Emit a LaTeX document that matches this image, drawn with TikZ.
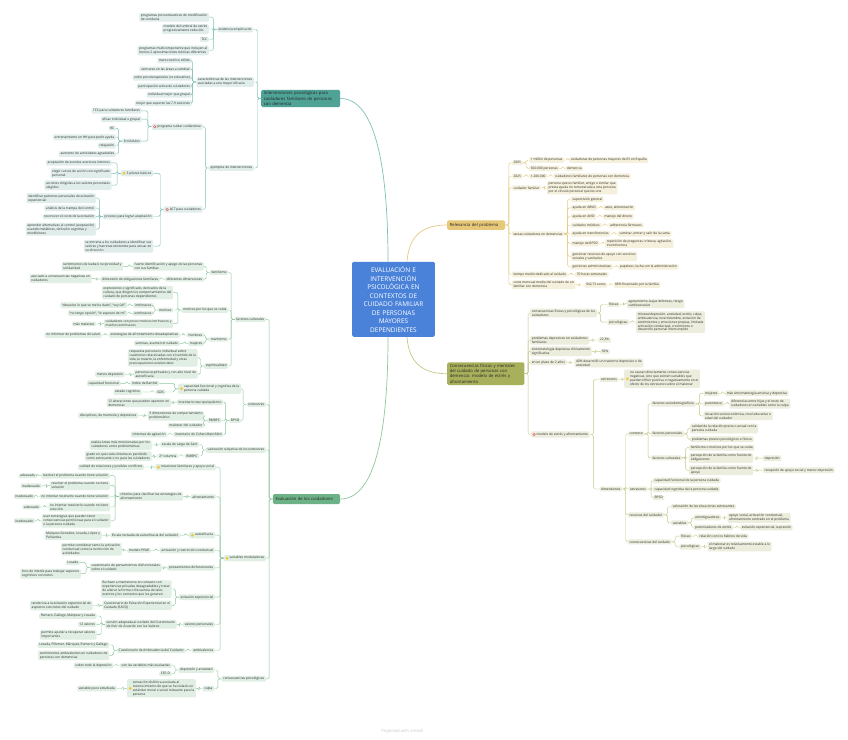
\documentclass[tikz,border=0pt]{standalone}
\usepackage{fontspec}
\setmainfont{Open Sans}
\usetikzlibrary{calc}
\definecolor{txt}{RGB}{45,45,45}
\definecolor{tF}{RGB}{224,237,234}\definecolor{tL}{RGB}{125,192,183}
\definecolor{gF}{RGB}{225,238,228}\definecolor{gL}{RGB}{140,200,158}
\definecolor{yF}{RGB}{245,240,220}\definecolor{yL}{RGB}{228,203,128}
\definecolor{oF}{RGB}{236,237,220}\definecolor{oL}{RGB}{196,199,135}
\definecolor{cB}{RGB}{74,130,218}
\definecolor{tB}{RGB}{78,162,150}
\definecolor{gB}{RGB}{108,178,134}
\definecolor{yB}{RGB}{231,200,120}
\definecolor{oB}{RGB}{168,176,92}
\definecolor{icY}{RGB}{244,200,60}
\definecolor{icR}{RGB}{228,92,92}
\newcommand\lf{\fontsize{3.25}{3.95}\selectfont}
\newcommand\LL[3]{\draw[#1] (#3.east) -| ([xshift=-3.5pt]#2.west) -- (#2.west);}
\newcommand\RL[3]{\draw[#1] (#2.east) -- ([xshift=3.5pt]#2.east) |- (#3.west);}
\newcommand\IC[1]{\hspace*{4.2pt}\begin{tabular}{@{}l@{}}#1\end{tabular}}
\newcommand\icy[1]{\fill[icY] ([xshift=3.4pt]#1.west) circle (1.6pt);}
\newcommand\icr[1]{\fill[icR] ([xshift=3.4pt]#1.west) circle (1.6pt);\fill[white] ([xshift=3.4pt]#1.west) circle (0.6pt);}
\begin{document}
\begin{tikzpicture}[x=1pt,y=-1pt,
  lbase/.style={rounded corners=1.2pt, inner xsep=1.6pt, inner ysep=1.2pt, font=\lf, text=txt},
  leaf/.style={lbase, align=left},
  tl/.style={leaf, fill=tF}, gl/.style={leaf, fill=gF}, yl/.style={leaf, fill=yF}, ol/.style={leaf, fill=oF},
  tli/.style={lbase, fill=tF}, gli/.style={lbase, fill=gF}, oli/.style={lbase, fill=oF},
  tc/.style={draw=tL, line width=0.45pt, rounded corners=1.5pt},
  gc/.style={draw=gL, line width=0.45pt, rounded corners=1.5pt},
  yc/.style={draw=yL, line width=0.45pt, rounded corners=1.5pt},
  oc/.style={draw=oL, line width=0.45pt, rounded corners=1.5pt},
  mainbox/.style={rounded corners=1.5pt, inner xsep=2.6pt, inner ysep=1.6pt, align=left, text=black!85, font=\fontsize{4.2}{5.4}\selectfont},
  L/.style={anchor=east}, R/.style={anchor=west}]
\useasboundingbox (0,0) rectangle (848,739);
\fill[white] (0,0) rectangle (848,739);

% ---------- center ----------
\node[fill=cB, rounded corners=1.5pt, minimum width=81pt, minimum height=75pt, text width=76pt, align=center, text=white, font=\fontsize{6.5}{8.5}\selectfont] (C) at (393.5,299.3)
{EVALUACIÓN E\\INTERVENCIÓN\\PSICOLÓGICA EN\\CONTEXTOS DE\\CUIDADO FAMILIAR\\DE PERSONAS\\MAYORES\\DEPENDIENTES};

% ---------- main boxes ----------
\node[mainbox, fill=tB, text width=73.8pt, anchor=west] (tI) at (261,98.5) {Intervenciones psicológicas para\\cuidadores familiares de personas\\con demencia};
\node[mainbox, fill=gB, text width=62pt, anchor=west, minimum height=10pt] (gE) at (272.7,499) {Evaluación de los cuidadores};
\node[mainbox, fill=yB, text width=52.8pt, anchor=west, minimum height=9.5pt] (yR) at (447,225) {Relevancia del problema};
\node[mainbox, fill=oB, text width=72pt, anchor=west] (oC) at (447,373.7) {Consecuencias físicas y mentales\\del cuidado de personas con\\demencia: modelo de estrés y\\afrontamiento};

\draw[tL, line width=0.7pt] ([xshift=-5.5pt]C.north) .. controls +(0,-95) and +(35,0) .. (tI.east);
\draw[gL, line width=0.7pt] ([xshift=-5.5pt]C.south) .. controls +(0,95) and +(35,0) .. (gE.east);
\draw[yL, line width=0.7pt] ([xshift=13.5pt]C.north) .. controls +(2,-28) and +(-22,0) .. (yR.west);
\draw[oL, line width=0.7pt] ([xshift=13.5pt]C.south) .. controls +(2,28) and +(-22,0) .. (oC.west);

% ---------- teal tree ----------
\node[tl,L] (t1) at (253.3,29.5) {evidencia empírica de};
\node[tl,L] (t11) at (209,17.2) {programas psicoeducativos de modificación\\de conducta};
\node[tl,L] (t12) at (209,29) {modelo del umbral de estrés\\progresivamente reducido};
\node[tl,L] (t13) at (209,39.5) {TCC};
\node[tl,L] (t14) at (209,50.5) {programas multicomponente que incluyen al\\menos 2 aproximaciones teóricas diferentes};
\node[tl,L] (t2) at (254,82) {características de las intervenciones\\asociadas a una mayor eficacia};
\node[tl,L] (t21) at (191.7,60.7) {marco teórico sólido};
\node[tl,L] (t22) at (191.7,69) {centrarse en las áreas a cambiar};
\node[tl,L] (t23) at (191.7,77.7) {estilo psicoterapéutico (vs educativo)};
\node[tl,L] (t24) at (191.7,86.2) {participación activa de cuidadores};
\node[tl,L] (t25) at (191.7,94.7) {individual mejor que grupal};
\node[tl,L] (t26) at (191.7,103.2) {mejor que superen las 7-9 sesiones};
\node[tl,L] (t3) at (254,168) {ejemplos de intervenciones};
\node[tli,L] (t31) at (202.7,126.7) {\IC{programa cuidar cuidándose}};
\node[tl,L] (t311) at (141.7,110.8) {TCC para cuidadores familiares};
\node[tl,L] (t312) at (141.7,119.2) {eficaz individual o grupal};
\node[tl,L] (t313) at (141.7,141.2) {8 módulos};
\node[tl,L] (t3131) at (116,128.3) {RC};
\node[tl,L] (t3132) at (116,137.2) {entrenamiento en HH para pedir ayuda};
\node[tl,L] (t3133) at (116,145.5) {relajación};
\node[tl,L] (t3134) at (116,154) {aumento de actividades agradables};
\node[tli,L] (t32) at (202.7,209.5) {\IC{ACT para cuidadores}};
\node[tli,L] (t321) at (153.3,173.3) {\IC{3 pilares básicos}};
\node[tl,L] (t3211) at (111.7,162.8) {aceptación de eventos aversivos internos};
\node[tl,L] (t3212) at (111.7,173.3) {elegir cursos de acción con significado\\personal};
\node[tl,L] (t3213) at (111.7,185.2) {acciones dirigidas a los valores personales\\elegidos};
\node[tl,L] (t322) at (153.3,216.5) {proceso para lograr aceptación};
\node[tl,L] (t3221) at (96,198.2) {identificar patrones personales de evitación\\experiencial};
\node[tl,L] (t3222) at (96,208.2) {análisis de la trampa del control};
\node[tl,L] (t3223) at (96,216.7) {reconocer el coste de la evitación};
\node[tl,L] (t3224) at (96,229.2) {aprender alternativas al control (aceptación)\\usando metáforas, defusión cognitiva y\\mindfulness};
\node[tl,L] (t323) at (153.3,246.2) {se entrena a los cuidadores a identificar sus\\valores y barreras existentes para actuar en\\su dirección};
\icr{t31}\icr{t32}\icy{t321}
\foreach \p/\c in {tI/t1,tI/t2,tI/t3,t1/t11,t1/t12,t1/t13,t1/t14,t2/t21,t2/t22,t2/t23,t2/t24,t2/t25,t2/t26,t3/t31,t3/t32,t31/t311,t31/t312,t31/t313,t313/t3131,t313/t3132,t313/t3133,t313/t3134,t32/t321,t32/t322,t32/t323,t321/t3211,t321/t3212,t321/t3213,t322/t3221,t322/t3222,t322/t3223,t322/t3224}{\LL{tc}{\p}{\c}}

% ---------- green tree ----------
\node[gl,L] (g1) at (266,319.3) {factores culturales};
\node[gl,L] (g11) at (228.3,272.5) {familismo};
\node[gl,L] (g111) at (204,266.3) {fuerte identificación y apego de las personas\\con sus familias};
\node[gl,L] (g1111) at (123.3,266.3) {sentimientos de lealtad, reciprocidad y\\solidaridad};
\node[gl,L] (g112) at (204,279.2) {diferentes dimensiones};
\node[gl,L] (g1121) at (160,279.2) {dimensión de obligaciones familiares};
\node[gl,L] (g11211) at (91.7,278.7) {asociado a consecuencias negativas en\\cuidadores};
\node[gl,L] (g12) at (228.3,310) {motivos por los que se cuida};
\node[gl,L] (g121) at (173.3,292.7) {expresiones o significado, derivados de la\\cultura, que dirigen los comportamientos del\\cuidado de personas dependientes};
\node[gl,L] (g122) at (173.3,310) {motivos};
\node[gl,L] (g1221) at (153.3,305.3) {intrínsecos};
\node[gl,L] (g12211) at (127.3,305.3) {“devuelvo lo que se me ha dado”, “soy útil”};
\node[gl,L] (g1222) at (153.3,313.3) {extrínsecos};
\node[gl,L] (g12221) at (127.3,313.3) {“no tengo opción”, “lo esperan de mí”};
\node[gl,L] (g123) at (173.3,323.7) {cuidadores con pocos motivos intrínsecos y\\muchos extrínsecos};
\node[gl,L] (g1231) at (96,324) {más malestar};
\node[gl,L] (g13) at (228.3,339.2) {machismo};
\node[gl,L] (g131) at (204,335) {hombres};
\node[gl,L] (g1311) at (180,335) {estrategias de afrontamiento desadaptativas};
\node[gl,L] (g13111) at (101.7,335) {no informar de problemas de salud};
\node[gl,L] (g132) at (204,343.3) {mujeres};
\node[gl,L] (g1321) at (180,343.3) {sumisas, asumen el cuidado};
\node[gl,L] (g14) at (228.3,366) {espiritualidad};
\node[gl,L] (g141) at (197.7,357.8) {respuesta personal o individual sobre\\cuestiones relacionadas con el sentido de la\\vida, la muerte, la enfermedad y otras\\preocupaciones existenciales};
\node[gl,L] (g142) at (197.7,374.2) {personas espirituales y con alto nivel de\\autoeficacia};
\node[gl,L] (g1421) at (125,374.5) {menos depresión};

\node[gl,L] (g2) at (266,404.5) {estresores};
\node[gli,L] (g21) at (241,388.8) {\IC{capacidad funcional y cognitiva de la\\persona cuidada}};
\node[gl,L] (g211) at (159.3,383.3) {índice de Barthel};
\node[gl,L] (g2111) at (120.7,383.3) {capacidad funcional};
\node[gl,L] (g212) at (165.7,392) {GDS};
\node[gl,L] (g2121) at (141.7,392) {estado cognitivo};
\node[gl,L] (g22) at (241,420.5) {BPSD};
\node[gl,L] (g221) at (223.3,402.2) {inventario neuropsiquiátrico};
\node[gl,L] (g2211) at (171,402.8) {12 alteraciones que pueden aparecer en\\demencias};
\node[gl,L] (g222) at (221.7,420.5) {RMBPC};
\node[gl,L] (g2221) at (204.3,415.8) {3 dimensiones de comportamiento\\problemático};
\node[gl,L] (g22211) at (138.3,415.5) {disruptivos, de memoria y depresivos};
\node[gl,L] (g2222) at (204.3,425.5) {malestar del cuidador};
\node[gl,L] (g223) at (223.3,434.5) {inventario de Cohen-Mansfield};
\node[gl,L] (g2231) at (167.3,434.5) {síntomas de agitación};

\node[gl,L] (g3) at (266,450) {valoración subjetiva de los estresores};
\node[gl,L] (g31) at (199.3,444.5) {escala de carga de Zarit};
\node[gl,L] (g311) at (151.7,445) {evalúa áreas más mencionadas por los\\cuidadores como problemáticas};
\node[gl,L] (g32) at (199.3,456) {RMBPC};
\node[gl,L] (g321) at (178.3,456) {2ª columna};
\node[gl,L] (g3211) at (151.7,456.3) {grado en que cada síntoma es percibido\\como estresante o no para los cuidadores};

\node[gli,L] (g4) at (266,558.2) {\IC{variables moduladoras}};
\node[gli,L] (g41) at (216,467.2) {\IC{relaciones familiares y apoyo social}};
\node[gl,L] (g411) at (144.3,467) {calidad de relaciones y posibles conflictos};
\node[gl,L] (g42) at (216,496.8) {afrontamiento};
\node[gl,L] (g421) at (183.3,496.3) {criterios para clasificar las estrategias de\\afrontamiento};
\node[gl,L] (g4211) at (110,475.7) {resolver el problema cuando tiene solución};
\node[gl,L] (g42111) at (37,475.7) {adecuado};
\node[gl,L] (g4212) at (110,485.7) {resolver el problema cuando no tiene\\solución};
\node[gl,L] (g42121) at (41.7,485.8) {inadecuado};
\node[gl,L] (g4213) at (110,496.5) {no intentar resolverlo cuando tiene solución};
\node[gl,L] (g42131) at (35,496.5) {inadecuado};
\node[gl,L] (g4214) at (110,507) {no intentar resolverlo cuando no tiene\\solución};
\node[gl,L] (g42141) at (40.7,507) {adecuado};
\node[gl,L] (g4215) at (110.7,520.8) {usar estrategias que pueden tener\\consecuencias perniciosas para el cuidador\\o la persona cuidada};
\node[gl,L] (g42151) at (35,520.8) {inadecuado};
\node[gli,L] (g43) at (215,535.2) {\IC{autoeficacia}};
\node[gl,L] (g431) at (180,535.2) {Escala revisada de autoeficacia del cuidador};
\node[gl,L] (g4311) at (101.7,535.5) {Márquez-González, Losada, López y\\Peñacoba};
\node[gl,L] (g44) at (215,550.5) {activación y restricción conductual};
\node[gl,L] (g441) at (151,550.5) {modelo PEAR};
\node[gl,L] (g4411) at (121.7,549.3) {permite considerar tanto la activación\\conductual como la restricción de\\actividades};
\node[gl,L] (g45) at (215,567.8) {pensamientos disfuncionales};
\node[gl,L] (g451) at (161.7,567.7) {cuestionario de pensamientos disfuncionales\\sobre el cuidado};
\node[gl,L] (g4511) at (80,562.7) {Losada};
\node[gl,L] (g4512) at (81,573.7) {foco de interés para trabajar aspectos\\cognitivos concretos};
\node[gl,L] (g46) at (215,597.2) {evitación experiencial};
\node[gl,L] (g461) at (171.7,589) {Rechazo a mantenerse en contacto con\\experiencias privadas desagradables y tratar\\de alterar la forma o frecuencia de tales\\eventos y los contextos que los generan};
\node[gl,L] (g462) at (171.7,605.3) {Cuestionario de Evitación Experiencial en el\\Cuidado (EACQ)};
\node[gl,L] (g4621) at (92.7,605.5) {tendencia a la evitación experiencial de\\aspectos concretos del cuidado};
\node[gl,L] (g47) at (215,624.5) {valores personales};
\node[gl,L] (g471) at (176.7,624.3) {versión adaptada al cuidado del Cuestionario\\de Vivir de Acuerdo con los Valores};
\node[gl,L] (g4711) at (96.7,616) {Romero, Gallego, Márquez y Losada};
\node[gl,L] (g4712) at (96.7,624.3) {12 valores};
\node[gl,L] (g4713) at (96.7,634.7) {permite ayudar a recuperar valores\\importantes};
\node[gl,L] (g48) at (215,650.5) {ambivalencia};
\node[gl,L] (g481) at (185.7,650.5) {Cuestionario de Ambivalencia del Cuidador};
\node[gl,L] (g4811) at (109.3,645) {Losada, Pillemer, Márquez, Romero y Gallego};
\node[gl,L] (g4812) at (109.3,655.3) {sentimientos ambivalentes en cuidadores de\\personas con demencias};

\node[gl,L] (g5) at (266,678.8) {consecuencias psicológicas};
\node[gl,L] (g51) at (214.3,670) {depresión y ansiedad};
\node[gl,L] (g511) at (171.7,665.5) {son las variables más evaluadas};
\node[gl,L] (g5111) at (113.3,665.5) {sobre todo la depresión};
\node[gl,L] (g512) at (171.7,673.8) {CES-D};
\node[gl,L] (g52) at (214.3,688.5) {culpa};
\node[gli,L] (g521) at (196,688.3) {\IC{sensación disfórica asociada al\\reconocimiento de que se ha violado un\\estándar moral o social relevante para la\\persona}};
\node[gl,L] (g5211) at (116.7,688.5) {variable poco estudiada};
\icy{g21}\icy{g4}\icy{g41}\icy{g43}\icy{g521}
\foreach \p/\c in {gE/g1,gE/g2,gE/g3,gE/g4,gE/g5,g1/g11,g1/g12,g1/g13,g1/g14,g11/g111,g111/g1111,g11/g112,g112/g1121,g1121/g11211,g12/g121,g12/g122,g12/g123,g122/g1221,g1221/g12211,g122/g1222,g1222/g12221,g123/g1231,g13/g131,g131/g1311,g1311/g13111,g13/g132,g132/g1321,g14/g141,g14/g142,g142/g1421,g2/g21,g21/g211,g211/g2111,g21/g212,g212/g2121,g2/g22,g22/g221,g221/g2211,g22/g222,g222/g2221,g2221/g22211,g222/g2222,g22/g223,g223/g2231,g3/g31,g31/g311,g3/g32,g32/g321,g321/g3211,g4/g41,g41/g411,g4/g42,g42/g421,g421/g4211,g4211/g42111,g421/g4212,g4212/g42121,g421/g4213,g4213/g42131,g421/g4214,g4214/g42141,g421/g4215,g4215/g42151,g4/g43,g43/g431,g431/g4311,g4/g44,g44/g441,g441/g4411,g4/g45,g45/g451,g451/g4511,g451/g4512,g4/g46,g46/g461,g46/g462,g462/g4621,g4/g47,g47/g471,g471/g4711,g471/g4712,g471/g4713,g4/g48,g48/g481,g481/g4811,g481/g4812,g5/g51,g51/g511,g511/g5111,g51/g512,g5/g52,g52/g521,g521/g5211}{\LL{gc}{\p}{\c}}

% ---------- yellow tree ----------
\node[yl,R] (y1) at (511.7,162.8) {2005};
\node[yl,R] (y11) at (529,160) {1 millón de personas};
\node[yl,R] (y111) at (569,160) {cuidadoras de personas mayores de 65 en España};
\node[yl,R] (y12) at (529,168.3) {600.000 personas};
\node[yl,R] (y121) at (565,168.3) {demencia};
\node[yl,R] (y2) at (511.7,176.2) {2025};
\node[yl,R] (y21) at (529,176.2) {1.200.000};
\node[yl,R] (y211) at (553.3,176.2) {cuidadores familiares de personas con demencia};
\node[yl,R] (y3) at (511.7,187.8) {cuidador familiar};
\node[yl,R] (y31) at (546.7,187.7) {persona que es familiar, amigo o similar que\\presta ayuda no remunerada a otra persona\\por el vínculo personal que les une};
\node[yl,R] (y4) at (511.7,233.8) {tareas cuidadores en demencias};
\node[yl,R] (y41) at (570.7,199.2) {supervisión general};
\node[yl,R] (y42) at (570.7,207.8) {ayuda en ABVD};
\node[yl,R] (y421) at (603.3,207.8) {aseo, alimentación};
\node[yl,R] (y43) at (570.7,216.5) {ayuda en AIVD};
\node[yl,R] (y431) at (602.7,216.5) {manejo del dinero};
\node[yl,R] (y44) at (570.7,225.2) {cuidados médicos};
\node[yl,R] (y441) at (608.3,225.2) {adherencia fármacos};
\node[yl,R] (y45) at (570.7,233.8) {ayuda en transferencias};
\node[yl,R] (y451) at (617.7,233.8) {caminar, entrar y salir de la cama};
\node[yl,R] (y46) at (570.7,243.5) {manejo de BPSD};
\node[yl,R] (y461) at (605,243.5) {repetición de preguntas, tristeza, agitación,\\incontinencia};
\node[yl,R] (y47) at (570.7,256.3) {gestionar recursos de apoyo con servicios\\sociales y sanitarios};
\node[yl,R] (y48) at (570.7,266.8) {gestiones administrativas};
\node[yl,R] (y481) at (618.3,266.8) {papeleos, lucha con la administración};
\node[yl,R] (y5) at (511.7,274.5) {tiempo medio dedicado al cuidado};
\node[yl,R] (y51) at (575,274.5) {70 horas semanales};
\node[yl,R] (y6) at (511.7,284.7) {coste mensual medio del cuidado de un\\familiar con demencia};
\node[yl,R] (y61) at (584.3,285) {942,73 euros};
\node[yl,R] (y611) at (613.3,285) {88\% financiado por la familia};
\foreach \p/\c in {yR/y1,yR/y2,yR/y3,yR/y4,yR/y5,yR/y6,y1/y11,y11/y111,y1/y12,y12/y121,y2/y21,y21/y211,y3/y31,y4/y41,y4/y42,y42/y421,y4/y43,y43/y431,y4/y44,y44/y441,y4/y45,y45/y451,y4/y46,y46/y461,y4/y47,y4/y48,y48/y481,y5/y51,y6/y61,y61/y611}{\RL{yc}{\p}{\c}}

% ---------- olive tree ----------
\node[ol,R] (o1) at (530,313) {consecuencias físicas y psicológicas de los\\cuidadores};
\node[ol,R] (o11) at (607.3,304.5) {físicas};
\node[ol,R] (o111) at (626.7,303.7) {agotamiento, bajas defensas, riesgo\\cardiovascular};
\node[ol,R] (o12) at (607.3,322.2) {psicológicas};
\node[ol,R] (o121) at (636,322.2) {tristeza/depresión, ansiedad, estrés, culpa,\\ambivalencia, incertidumbre, evitación de\\sentimientos y emociones propias, limitada\\activación conductual, crecimiento o\\desarrollo personal interrumpido};
\node[ol,R] (o2) at (530,340.3) {problemas depresivos en cuidadores\\familiares};
\node[ol,R] (o21) at (598.3,340) {22,3\%};
\node[ol,R] (o3) at (530,351.3) {sintomatología depresiva clínicamente\\significativa};
\node[ol,R] (o31) at (600,351.7) {50\%};
\node[ol,R] (o4) at (530,362.2) {en un plazo de 2 años};
\node[ol,R] (o41) at (574.3,363) {40\% desarrolló un trastorno depresivo o de\\ansiedad};
\node[oli,R] (o5) at (530.7,434.5) {\IC{modelo de estrés y afrontamiento}};
\node[ol,R] (o51) at (599.3,379.5) {estresores};
\node[oli,R] (o511) at (624,378.8) {\IC{no causan directamente consecuencias\\negativas, sino que existen variables que\\pueden influir positiva o negativamente en el\\efecto de los estresores sobre el malestar}};
\node[ol,R] (o52) at (599.3,489) {dimensiones};
\node[ol,R] (o521) at (627.7,433.8) {contexto};
\node[ol,R] (o5211) at (650.7,403.8) {factores sociodemográficos};
\node[ol,R] (o52111) at (703.3,393.3) {mujeres};
\node[ol,R] (o521111) at (725,393.3) {más sintomatología ansiosa y depresiva};
\node[ol,R] (o52112) at (703.3,403.8) {parentesco};
\node[ol,R] (o521121) at (729.3,403.8) {diferencias entre hijas y el resto de\\cuidadores en variables como la culpa};
\node[ol,R] (o52113) at (703.3,415.8) {situación socioeconómica, nivel educativo o\\edad del cuidador};
\node[ol,R] (o5212) at (650.7,433.8) {factores personales};
\node[ol,R] (o52121) at (690,428.5) {calidad de la relación previa o actual con la\\persona cuidada};
\node[ol,R] (o52122) at (690,439.3) {problemas previos psicológicos o físicos};
\node[ol,R] (o5213) at (650.7,457.8) {factores culturales};
\node[ol,R] (o52131) at (689,447.7) {familismo o motivos por los que se cuida};
\node[ol,R] (o52132) at (689,458) {percepción de la familia como fuente de\\obligaciones};
\node[ol,R] (o521321) at (762.7,458.2) {depresión};
\node[ol,R] (o52133) at (689,470.3) {percepción de la familia como fuente de\\apoyo};
\node[ol,R] (o521331) at (762.7,470.2) {recepción de apoyo social y menor depresión};
\node[ol,R] (o522) at (628.3,489) {estresores};
\node[ol,R] (o5221) at (652.7,480.5) {capacidad funcional de la persona cuidada};
\node[ol,R] (o5222) at (652.7,489.3) {capacidad cognitiva de la persona cuidada};
\node[ol,R] (o5223) at (652.7,497.8) {BPSD};
\node[ol,R] (o523) at (627.7,514.8) {recursos del cuidador};
\node[ol,R] (o5231) at (671,506.5) {valoración de las situaciones estresantes};
\node[ol,R] (o5232) at (671,522.8) {variables};
\node[ol,R] (o52321) at (693.3,517.5) {amortiguadoras};
\node[ol,R] (o523211) at (727.3,518) {apoyo social, activación conductual,\\afrontamiento centrado en el problema};
\node[ol,R] (o52322) at (693.3,527.5) {potenciadores de estrés};
\node[ol,R] (o523221) at (740,527.5) {evitación experiencial, supresión};
\node[ol,R] (o524) at (627.7,541.8) {consecuencias del cuidado};
\node[ol,R] (o5241) at (679.3,536.2) {físicas};
\node[ol,R] (o52411) at (697.7,536.2) {relación con los hábitos de vida};
\node[ol,R] (o5242) at (679.3,546.8) {psicológicas};
\node[ol,R] (o52421) at (707.3,546.5) {el malestar es relativamente estable a lo\\largo del cuidado};
\icr{o5}\icy{o511}
\foreach \p/\c in {oC/o1,oC/o2,oC/o3,oC/o4,oC/o5,o1/o11,o11/o111,o1/o12,o12/o121,o2/o21,o3/o31,o4/o41,o5/o51,o51/o511,o5/o52,o52/o521,o52/o522,o52/o523,o52/o524,o521/o5211,o521/o5212,o521/o5213,o5211/o52111,o52111/o521111,o5211/o52112,o52112/o521121,o5211/o52113,o5212/o52121,o5212/o52122,o5213/o52131,o5213/o52132,o52132/o521321,o5213/o52133,o52133/o521331,o522/o5221,o522/o5222,o522/o5223,o523/o5231,o523/o5232,o5232/o52321,o52321/o523211,o5232/o52322,o52322/o523221,o524/o5241,o5241/o52411,o524/o5242,o5242/o52421}{\RL{oc}{\p}{\c}}

\node[text=black!22, font=\fontsize{4.2}{5}\selectfont] (foot) at (402,731) {Projected with xmind};
\end{tikzpicture}
\end{document}
